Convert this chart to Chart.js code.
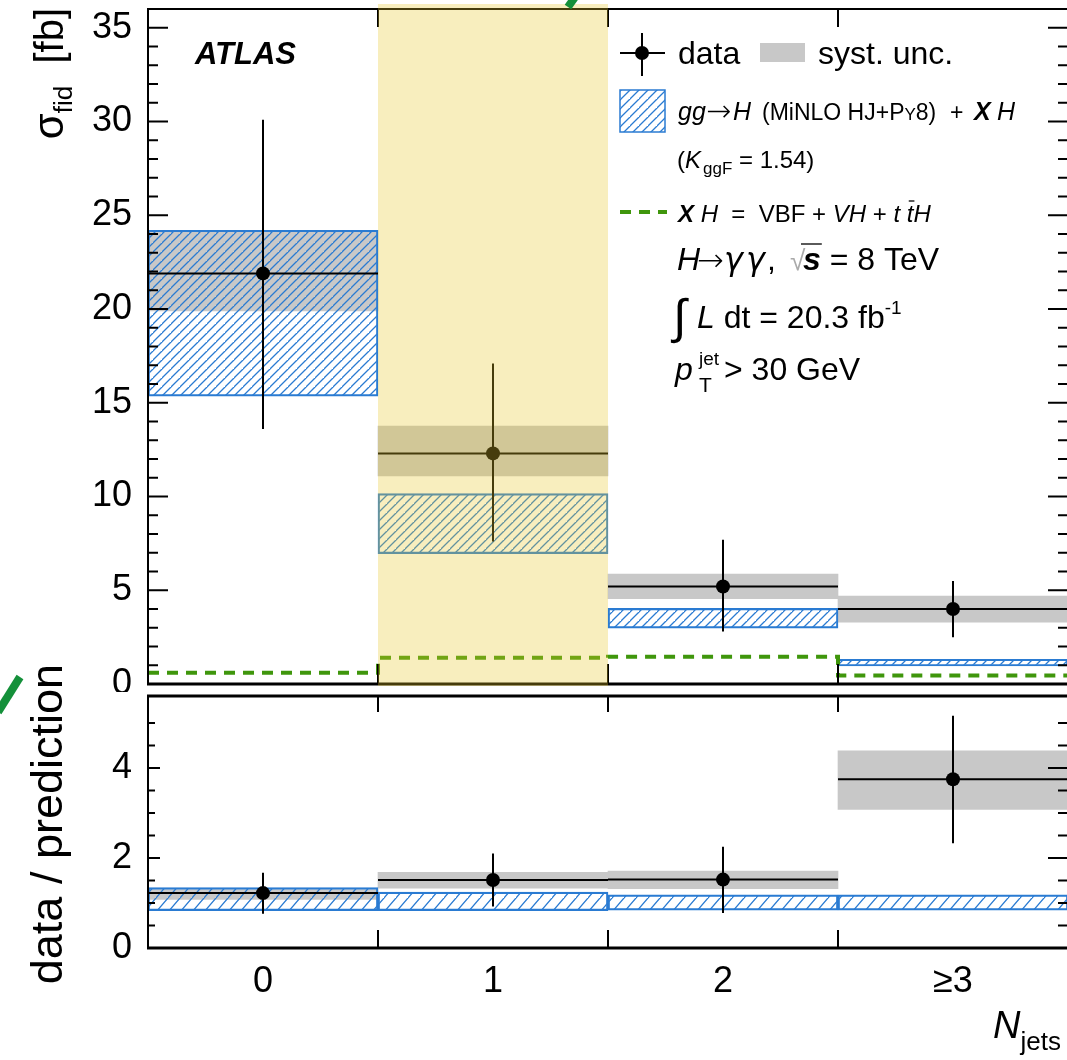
<!DOCTYPE html>
<html lang="en">
<head>
<meta charset="UTF-8">
<title>Njets fiducial cross section</title>
<style>
  body { margin: 0; background: #fff; overflow: hidden; }
  canvas { position: absolute; left: 0; }
  #main { top: 0; }
  #ratio { top: 660px; }
</style>
</head>
<body>
<canvas id="main" width="1075" height="692"></canvas>
<canvas id="ratio" width="1075" height="400"></canvas>

<script src="https://cdn.jsdelivr.net/npm/chart.js"></script>
<script>
// ---- data ----
const bins = ['0', '1', '2', '\u22653'];
const centers = [0, 1, 2, 3];
const highlightBin = 1;

// upper panel: sigma_fid [fb]
const dataVal = [21.9, 12.3, 5.2, 4.0];
const dataHi = [30.1, 17.1, 7.7, 5.5];
const dataLo = [13.6, 7.6, 2.8, 2.5];
const systHi = [24.2, 13.75, 5.86, 4.69];
const systLo = [19.9, 11.1, 4.55, 3.3];
const predHi = [24.2, 10.15, 4.03, 1.32];
const predLo = [15.35, 6.95, 2.98, 0.96];
const xhVal = [0.6, 1.4, 1.45, 0.45];

// lower panel: data / prediction
const ratioVal = [1.22, 1.51, 1.52, 3.75];
const ratioHi = [1.67, 2.10, 2.25, 5.16];
const ratioLo = [0.76, 0.92, 0.78, 2.33];
const ratioSystHi = [1.30, 1.68, 1.71, 4.38];
const ratioSystLo = [1.08, 1.33, 1.32, 3.08];
const ratioPredHi = [1.34, 1.24, 1.18, 1.18];
const ratioPredLo = [0.83, 0.83, 0.84, 0.84];

const F = '"Liberation Sans", Arial, Helvetica, sans-serif';
const DV = '"DejaVu Sans", sans-serif';
const BLUE = '#2a7bd2';
const GRAY = '#c8c8c8';
const GREEN = '#3f960c';

// "/" hatch, w x h tile
function hatch(canvas, w, h) {
  const c = document.createElement('canvas');
  c.width = w; c.height = h;
  const g = c.getContext('2d');
  g.strokeStyle = BLUE;
  g.lineWidth = 1.3;
  g.beginPath();
  g.moveTo(0, h); g.lineTo(w, 0);
  g.moveTo(-w, h); g.lineTo(w * 0 + 0, 0);
  g.moveTo(w, 2 * h); g.lineTo(2 * w, 0);
  g.moveTo(-1, h / w); g.lineTo(1, -h / w);
  g.stroke();
  return canvas.getContext('2d').createPattern(c, 'repeat');
}

const edges = centers.map(c => c - 0.5).concat([centers[centers.length - 1] + 0.5]);
const innerEdges = edges.slice(1, -1);

function floatBars(lo, hi) {
  return centers.map((c, i) => ({ x: c, y: [lo[i], hi[i]] }));
}

function line(ctx, x1, y1, x2, y2) {
  ctx.beginPath(); ctx.moveTo(x1, y1); ctx.lineTo(x2, y2); ctx.stroke();
}

// draw text made of several pieces (font / offset) from left to right
function rich(ctx, x, y, segs) {
  let cx = x;
  segs.forEach(s => {
    if (s.at !== undefined) cx = s.at;
    ctx.font = s.f;
    ctx.fillStyle = s.c || '#000';
    const w = ctx.measureText(s.t).width;
    ctx.fillText(s.t, cx, y + (s.dy || 0));
    if (s.over) {
      ctx.strokeStyle = '#000';
      ctx.lineWidth = 1.3;
      line(ctx, cx + (s.ox || 1), y + s.over, cx + w + 1, y + s.over);
    }
    if (!s.stay) cx += w;
  });
  return cx;
}

function richWidth(ctx, segs) {
  let w = 0;
  segs.forEach(s => { ctx.font = s.f; if (!s.stay) w += ctx.measureText(s.t).width; });
  return w;
}

function errorsPlugin(vals, lo, hi) {
  return {
    id: 'errors',
    afterDatasetsDraw(chart) {
      const { ctx, scales: { x, y } } = chart;
      ctx.save();
      ctx.strokeStyle = '#000';
      ctx.lineWidth = 2;
      centers.forEach((c, i) => {
        const px = x.getPixelForValue(c);
        const py = y.getPixelForValue(vals[i]);
        line(ctx, x.getPixelForValue(c - 0.5), py, x.getPixelForValue(c + 0.5), py);
        line(ctx, px, y.getPixelForValue(hi[i]), px, y.getPixelForValue(lo[i]));
      });
      ctx.restore();
    }
  };
}

function onStep(v, step) {
  return Math.abs(v / step - Math.round(v / step)) < 1e-6;
}

function framePlugin(o) {
  return {
    id: 'frame',
    afterDraw(chart) {
      const { ctx, chartArea: a, scales: { x, y } } = chart;
      ctx.save();
      ctx.strokeStyle = '#000';
      ctx.lineWidth = 2;
      y.ticks.forEach(t => {
        if (!onStep(t.value, o.minor)) return;
        const major = onStep(t.value, o.major);
        const py = y.getPixelForValue(t.value);
        line(ctx, a.left, py, a.left + (major ? o.majL : o.minL), py);
        line(ctx, a.right, py, a.right - (major ? 20 : 10), py);
      });
      innerEdges.forEach(e => {
        const px = x.getPixelForValue(e);
        line(ctx, px, a.top, px, a.top + o.topLen);
        line(ctx, px, a.bottom, px, a.bottom - o.botLen);
      });
      line(ctx, a.left, a.top - 1, a.left, a.bottom + 1);
      line(ctx, a.right, a.top, a.right, a.bottom);
      ctx.lineWidth = o.topW;
      line(ctx, a.left - 1, a.top, a.right, a.top);
      ctx.lineWidth = 3;
      line(ctx, a.left - 1, a.bottom, a.right, a.bottom);
      ctx.restore();
      if (o.after) o.after(chart);
    }
  };
}

function commonOptions(yOpts, pad, xOpts) {
  return {
    responsive: false,
    animation: false,
    layout: { padding: { top: pad.top, right: 4, bottom: pad.bottom, left: 0 } },
    plugins: { legend: { display: false }, tooltip: { enabled: false } },
    datasets: { bar: { grouped: false, barPercentage: 1, categoryPercentage: 1 } },
    scales: {
      x: Object.assign({
        type: 'linear', offset: false, min: edges[0], max: edges[edges.length - 1],
        afterBuildTicks(s) { s.ticks = centers.map(v => ({ value: v })); }
      }, xOpts),
      y: Object.assign({
        grid: { display: false }, border: { display: false },
        afterFit(s) { s.width = 148; s.paddingTop = 0; s.paddingBottom = 0; }
      }, yOpts)
    }
  };
}

// ---------------- upper panel ----------------
const mainCanvas = document.getElementById('main');
const mainHatch = hatch(mainCanvas, 9, 9);

function drawMainDecor(chart) {
  const { ctx, chartArea: a, scales: { x } } = chart;
  ctx.save();
  // highlighted bin
  ctx.fillStyle = 'rgba(232, 200, 40, 0.30)';
  const xl = x.getPixelForValue(centers[highlightBin] - 0.5);
  const xr = x.getPixelForValue(centers[highlightBin] + 0.5);
  ctx.fillRect(xl, a.top - 5, xr - xl, a.bottom - a.top + 7);

  // green mark at the top edge
  ctx.strokeStyle = '#14903a';
  ctx.lineWidth = 8;
  line(ctx, 568, 7, 580, -10);

  // y title
  ctx.save();
  ctx.translate(63, 8);
  ctx.rotate(-Math.PI / 2);
  const ys = [
    { t: '\u03c3', f: '42px ' + F },
    { t: 'fid', f: '26px ' + F, dy: 9 },
    { t: '  [fb]', f: '40px ' + F }
  ];
  rich(ctx, -richWidth(ctx, ys), 0, ys);
  ctx.restore();

  // ATLAS label
  ctx.font = 'italic bold 31px ' + F;
  ctx.fillStyle = '#000';
  ctx.fillText('ATLAS', 195, 64);

  // legend: data
  ctx.strokeStyle = '#000';
  ctx.lineWidth = 2;
  line(ctx, 620, 53, 665, 53);
  line(ctx, 642, 33, 642, 76);
  ctx.beginPath(); ctx.arc(642, 53, 7, 0, Math.PI * 2); ctx.fillStyle = '#000'; ctx.fill();
  rich(ctx, 678, 64, [{ t: 'data', f: '32px ' + F }]);
  ctx.fillStyle = GRAY;
  ctx.fillRect(760, 43, 45, 19);
  rich(ctx, 818, 64, [{ t: 'syst. unc.', f: '32px ' + F }]);

  // legend: prediction
  ctx.fillStyle = mainHatch;
  ctx.fillRect(620, 90, 45, 42);
  ctx.strokeStyle = BLUE;
  ctx.lineWidth = 1.5;
  ctx.strokeRect(620, 90, 45, 42);
  rich(ctx, 678, 120, [
    { t: 'gg', f: 'italic 25px ' + F },
    { t: '\u2192', f: '200 30px ' + DV, at: 706, dy: 1 },
    { t: 'H', f: 'italic 25px ' + F, at: 733 },
    { t: '(MiNLO HJ+P', f: '23px ' + F, at: 762 },
    { t: 'Y', f: '17px ' + F },
    { t: '8)', f: '23px ' + F },
    { t: '+', f: '23px ' + F, at: 950 },
    { t: 'X', f: 'italic bold 25px ' + F, at: 974 },
    { t: 'H', f: 'italic 25px ' + F, at: 997 }
  ]);
  rich(ctx, 677, 168, [
    { t: '(', f: '24px ' + F },
    { t: 'K', f: 'italic 24px ' + F },
    { t: 'ggF', f: '17px ' + F, dy: 6, at: 703 },
    { t: ' = 1.54)', f: '24px ' + F }
  ]);

  // legend: XH
  ctx.strokeStyle = GREEN;
  ctx.lineWidth = 4;
  ctx.setLineDash([11, 8]);
  line(ctx, 620, 212, 667, 212);
  ctx.setLineDash([]);
  rich(ctx, 678, 222, [
    { t: 'X', f: 'italic bold 24px ' + F },
    { t: ' H', f: 'italic 24px ' + F },
    { t: '  =  VBF + ', f: '24px ' + F },
    { t: 'VH', f: 'italic 24px ' + F },
    { t: ' + ', f: '24px ' + F },
    { t: 't ', f: 'italic 24px ' + F },
    { t: 't', f: 'italic 24px ' + F, over: -21, ox: 2 },
    { t: 'H', f: 'italic 24px ' + F }
  ]);

  // info lines
  rich(ctx, 677, 270, [
    { t: 'H', f: 'italic 32px ' + F },
    { t: '\u2192', f: '200 32px ' + DV, at: 697, dy: 1 },
    { t: '\u03b3', f: 'oblique 32px ' + DV, at: 724 },
    { t: '\u03b3', f: 'oblique 32px ' + DV, at: 746 },
    { t: ',', f: '32px ' + F, at: 767 },
    { t: '\u221a', f: '28px ' + F, c: '#aaa', at: 790 },
    { t: 's', f: 'italic bold 32px ' + F, at: 803, over: -26, ox: -2 },
    { t: ' = 8 TeV', f: '32px ' + F }
  ]);
  rich(ctx, 673, 328, [
    { t: '\u222b', f: '48px ' + F, dy: 5 },
    { t: 'L', f: 'italic 32px ' + F, at: 697 },
    { t: ' dt = 20.3 fb', f: '32px ' + F },
    { t: '-1', f: '19px ' + F, dy: -14 }
  ]);
  rich(ctx, 675, 380, [
    { t: 'p', f: 'italic 32px ' + F },
    { t: 'jet', f: '19px ' + F, dy: -15, at: 699 },
    { t: 'T', f: '21px ' + F, dy: 12, at: 699 },
    { t: '> 30 GeV', f: '32px ' + F, at: 724 }
  ]);
  ctx.restore();
}

const xhSteps = edges.map((e, i) => ({ x: e, y: xhVal[Math.min(i, xhVal.length - 1)] }));

new Chart(mainCanvas, {
  type: 'bar',
  data: {
    datasets: [
      { label: 'syst. unc.', data: floatBars(systLo, systHi), backgroundColor: GRAY, order: 4 },
      {
        label: 'gg->H + XH', data: floatBars(predLo, predHi), backgroundColor: mainHatch,
        borderColor: BLUE, borderWidth: 1.5, borderSkipped: false, order: 3
      },
      {
        type: 'line', label: 'XH', data: xhSteps, stepped: 'before', borderColor: GREEN,
        borderWidth: 4, borderDash: [11, 8], pointRadius: 0, fill: false, order: 2
      },
      {
        type: 'line', label: 'data', data: centers.map((c, i) => ({ x: c, y: dataVal[i] })),
        showLine: false, pointRadius: 7, pointBackgroundColor: '#000', pointBorderWidth: 0, order: 1
      }
    ]
  },
  options: commonOptions({
    min: 0, max: 36,
    ticks: {
      stepSize: 1, autoSkip: false, padding: 8, color: '#000',
      font: { family: F, size: 36, lineHeight: 0.4 },
      callback: v => (onStep(v, 5) ? v : '')
    }
  }, { top: 9, bottom: 8 }, { display: false }),
  plugins: [errorsPlugin(dataVal, dataLo, dataHi),
    framePlugin({ minor: 1, major: 5, majL: 20, minL: 10, topLen: 18, botLen: 20, topW: 2, after: drawMainDecor })]
});
</script>
<script>
// ---------------- lower panel ----------------
const ratioCanvas = document.getElementById('ratio');
const ratioHatch = hatch(ratioCanvas, 12, 14);

function drawRatioDecor(chart) {
  const { ctx } = chart;
  ctx.save();
  ctx.strokeStyle = '#14903a';
  ctx.lineWidth = 8;
  line(ctx, -2, 52, 20, 17);

  ctx.translate(62, 4);
  ctx.rotate(-Math.PI / 2);
  const t = [{ t: 'data / prediction', f: '45px ' + F }];
  rich(ctx, -richWidth(ctx, t), 0, t);
  ctx.restore();

  ctx.save();
  rich(ctx, 993, 378, [
    { t: 'N', f: 'italic 38px ' + F },
    { t: 'jets', f: '26px ' + F, dy: 12 }
  ]);
  ctx.restore();
}

new Chart(ratioCanvas, {
  type: 'bar',
  data: {
    datasets: [
      { label: 'syst. unc.', data: floatBars(ratioSystLo, ratioSystHi), backgroundColor: GRAY, order: 4 },
      {
        label: 'prediction', data: floatBars(ratioPredLo, ratioPredHi), backgroundColor: ratioHatch,
        borderColor: BLUE, borderWidth: 1.5, borderSkipped: false, order: 3
      },
      {
        type: 'line', label: 'data', data: centers.map((c, i) => ({ x: c, y: ratioVal[i] })),
        showLine: false, pointRadius: 7, pointBackgroundColor: '#000', pointBorderWidth: 0, order: 1
      }
    ]
  },
  options: commonOptions({
    min: 0, max: 5.6,
    ticks: {
      stepSize: 0.5, autoSkip: false, padding: 8, color: '#000',
      font: { family: F, size: 36, lineHeight: 0.4 },
      callback: v => (onStep(v, 2) ? v : '')
    }
  }, { top: 36, bottom: 0 }, {
    grid: { display: false, drawTicks: false }, border: { display: false },
    afterFit(s) { s.height = 112; },
    ticks: {
      padding: 12, maxRotation: 0, autoSkip: false, color: '#000', font: { family: F, size: 36 },
      callback: v => bins[centers.indexOf(v)]
    }
  }),
  plugins: [errorsPlugin(ratioVal, ratioLo, ratioHi),
    framePlugin({ minor: 0.5, major: 2, majL: 12, minL: 7, topLen: 16, botLen: 18, topW: 3, after: drawRatioDecor })]
});
</script>
</body>
</html>
